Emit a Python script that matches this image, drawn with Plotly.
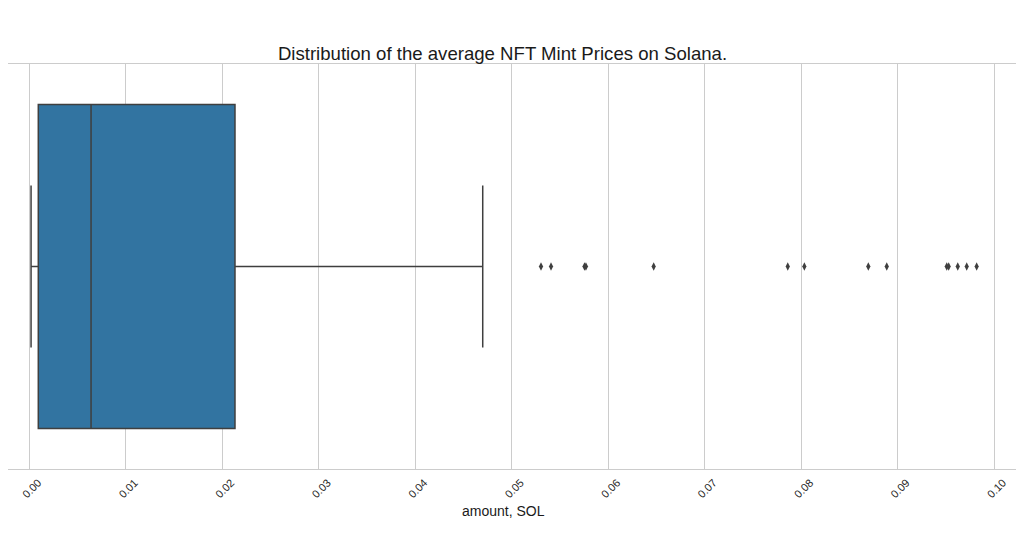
import plotly.graph_objects as go

# precomputed box statistics (SOL)
CATEGORY = ["mint"]
LOWER_FENCE = [0.00018]
Q1 = [0.00093]
MEDIAN = [0.0064]
Q3 = [0.02132]
UPPER_FENCE = [0.0470]

# outliers beyond the upper whisker (some overlap)
OUTLIERS = [0.05304, 0.05408, 0.05755, 0.05770, 0.06472, 0.07862, 0.08034,
            0.08697, 0.08888, 0.0951, 0.0953, 0.09624, 0.09717, 0.0982]

X_TICKS = [0.00, 0.01, 0.02, 0.03, 0.04, 0.05, 0.06, 0.07, 0.08, 0.09, 0.10]
X_TICK_LABELS = ["0.00", "0.01", "0.02", "0.03", "0.04", "0.05",
                 "0.06", "0.07", "0.08", "0.09", "0.10"]

EDGE = "#3f3f3f"
GRID = "#cccccc"
FONT = "Liberation Sans, Arial, sans-serif"

# page body keeps its default 8px margin, so the figure is sized to fit inside
W, H = 1016, 528

fig = go.Figure()

fig.add_trace(go.Box(
    orientation="h",
    y=CATEGORY,
    q1=Q1,
    median=MEDIAN,
    q3=Q3,
    lowerfence=LOWER_FENCE,
    upperfence=UPPER_FENCE,
    width=0.8,
    whiskerwidth=0.5,
    fillcolor="#3274a1",
    line=dict(color=EDGE, width=1.5),
    boxpoints=False,
    showlegend=False,
))

fig.add_trace(go.Scatter(
    x=OUTLIERS,
    y=CATEGORY * len(OUTLIERS),
    mode="markers",
    marker=dict(symbol="diamond-tall", size=6, color=EDGE),
    showlegend=False,
    hovertemplate="%{x:.4f} SOL<extra></extra>",
))

fig.update_layout(
    width=W,
    height=H,
    margin=dict(l=0, r=2, t=56, b=67),
    paper_bgcolor="white",
    plot_bgcolor="white",
    font=dict(family=FONT, color="#262626"),
    title=dict(
        text="Distribution of the average NFT Mint Prices on Solana.",
        x=494.5 / W,
        xanchor="center",
        y=1 - 45 / H,
        yanchor="middle",
        font=dict(size=18.6, color="#1a1a1a"),
    ),
    xaxis=dict(
        range=[-0.00221, 0.1029],
        tickvals=X_TICKS,
        ticktext=X_TICK_LABELS,
        tickangle=-45,
        tickfont=dict(size=11, color="#262626"),
        ticklabelshift=9,
        ticklabelstandoff=2,
        automargin=False,
        showgrid=True,
        gridcolor=GRID,
        gridwidth=1,
        zeroline=False,
        showline=True,
        linecolor=GRID,
        linewidth=1,
        mirror=True,
        ticks="",
    ),
    yaxis=dict(
        range=[-0.5, 0.5],
        showticklabels=False,
        showgrid=False,
        zeroline=False,
        showline=False,
        ticks="",
        automargin=False,
    ),
)

# x-axis title, centred on the full axes (part of which is cropped on the left)
fig.add_annotation(
    text="amount, SOL",
    xref="paper", yref="paper",
    x=495 / 1014, y=-42 / 405,
    xanchor="center", yanchor="middle",
    showarrow=False,
    font=dict(size=14, color="#1a1a1a"),
)

# right spine (left spine falls outside the visible area)
fig.add_shape(type="line", xref="paper", yref="paper", x0=1, x1=1, y0=0, y1=1,
              line=dict(color=GRID, width=1))

fig.write_html("out.html")
